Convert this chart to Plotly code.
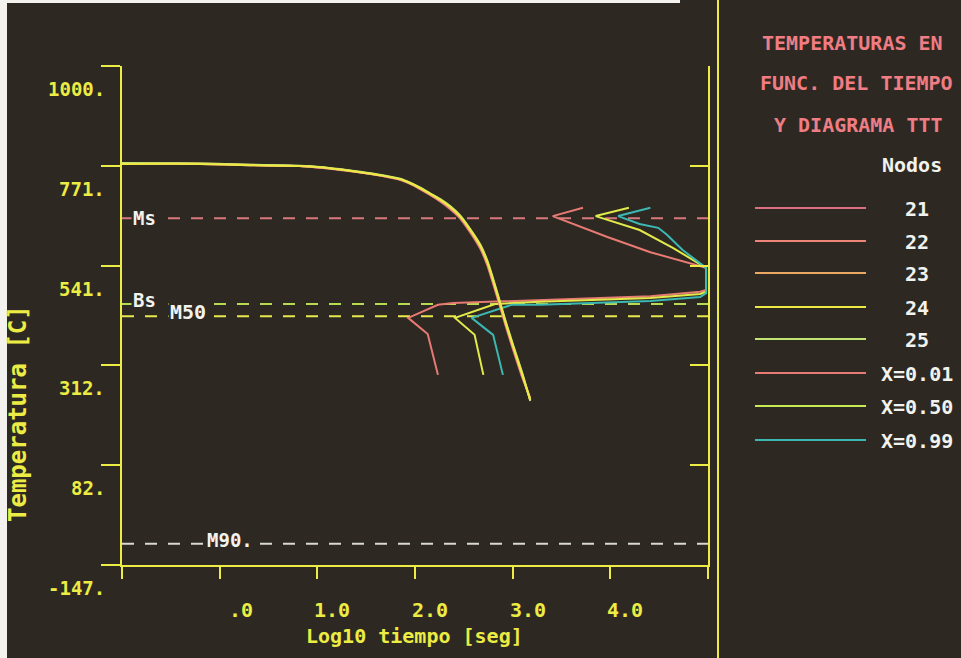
import plotly.graph_objects as go

# ---------------- data ----------------
log_t = [-1.0, -0.2, 0.31, 0.62, 0.82, 1.03, 1.23, 1.44, 1.67, 1.85, 1.95, 2.05, 2.15,
         2.26, 2.36, 2.46, 2.56, 2.67, 2.74, 2.80, 2.87, 2.93, 3.00, 3.10, 3.18]
temp_n21 = [775, 775, 772, 771, 770, 766, 761, 755, 747, 738, 729, 717, 704, 688, 671, 650, 619, 579, 542, 499, 447, 401, 351, 283, 237]
temp_n22 = [775, 775, 772, 771, 770, 766, 762, 755, 747, 739, 730, 718, 705, 690, 673, 652, 622, 582, 545, 503, 451, 405, 355, 286, 235]
temp_n23 = [776, 776, 773, 771, 770, 767, 762, 756, 748, 739, 730, 719, 706, 691, 675, 654, 624, 584, 548, 506, 453, 407, 357, 288, 233]
temp_n24 = [775, 775, 772, 771, 770, 767, 762, 756, 748, 740, 731, 720, 707, 692, 676, 655, 625, 586, 550, 508, 455, 409, 359, 290, 232]
temp_n25 = [777, 776, 773, 772, 771, 768, 763, 757, 749, 741, 732, 721, 708, 694, 678, 657, 627, 589, 553, 511, 458, 412, 362, 293, 230]
node_names = ["21", "22", "23", "24", "25"]
node_colors = ["#dc7082", "#ec8478", "#eaa864", "#ece844", "#c2e472"]

ttt001_t = [2.235, 2.13, 1.93, 2.235, 2.39, 3.28, 4.41, 4.92, 4.98, 4.98, 4.41, 3.97, 3.41, 3.72]
ttt001_T = [290, 384, 421, 451, 455, 462, 471, 481, 485, 536, 572, 607, 655, 674]
ttt050_t = [2.70, 2.61, 2.41, 2.82, 3.28, 4.41, 4.92, 4.98, 4.98, 4.64, 4.30, 3.85, 4.19]
ttt050_T = [290, 382, 421, 453, 458, 467, 476, 481, 536, 582, 623, 655, 674]
ttt099_t = [2.90, 2.80, 2.58, 2.82, 2.99, 3.28, 4.41, 4.92, 4.98, 4.98, 4.74, 4.58, 4.49, 4.30, 4.08, 4.41]
ttt099_T = [290, 382, 421, 439, 451, 451, 460, 469, 478, 536, 577, 612, 628, 637, 655, 674]
ttt_names = ["X=0.01", "X=0.50", "X=0.99"]
ttt_colors = ["#e87a74", "#e2ea4a", "#3cb8b2"]

crit_names = ["Ms", "Bs", "M50", "M90."]
crit_temps = [650, 453, 425, -98]
crit_colors = ["#d8787c", "#b8da52", "#e8e84c", "#d8d8d4"]

y_tick_vals = [1000, 771, 541, 312, 82, -147]
y_tick_text = ["1000.", "771.", "541.", "312.", "82.", "-147."]
x_tick_vals = [-1, 0, 1, 2, 3, 4, 5]
x_label_vals = [0, 1, 2, 3, 4]
x_label_text = [".0", "1.0", "2.0", "3.0", "4.0"]

title_lines = ["TEMPERATURAS EN", "FUNC. DEL TIEMPO", "Y DIAGRAMA TTT"]

# ---------------- layout geometry (pixels) ----------------
W, H = 961, 658
L, R, T, B = 122, 708, 66, 565
BG = "#2d2922"
YEL = "#ecec44"
WHITE = "#f2f2ee"
PINK = "#f07c84"
FONT = "DejaVu Sans Mono"


def px(xp):
    return (xp - L) / (R - L)


def py(yp):
    return (B - yp) / (B - T)


fig = go.Figure()

# critical temperature lines
for name, tv, col in zip(crit_names, crit_temps, crit_colors):
    fig.add_trace(go.Scatter(x=[-1, 5], y=[tv, tv], mode="lines",
                             line=dict(color=col, width=2, dash="12px,11px"),
                             showlegend=False, hoverinfo="skip"))

# TTT curves
for t_, T_, col in zip([ttt001_t, ttt050_t, ttt099_t], [ttt001_T, ttt050_T, ttt099_T], ttt_colors):
    fig.add_trace(go.Scatter(x=t_, y=T_, mode="lines", line=dict(color=col, width=2),
                             showlegend=False))

# cooling curves (node 24 drawn last)
node_temps = [temp_n21, temp_n22, temp_n23, temp_n24, temp_n25]
for i in [0, 1, 2, 4, 3]:
    fig.add_trace(go.Scatter(x=log_t, y=node_temps[i], mode="lines",
                             line=dict(color=node_colors[i], width=2, shape="spline", smoothing=0.6),
                             showlegend=False))

# dummy trace for right axis
fig.add_trace(go.Scatter(x=[None], y=[None], yaxis="y2", showlegend=False))

annotations = []
# y tick labels
for v, t in zip(y_tick_vals, y_tick_text):
    annotations.append(dict(x=0, xref="paper", y=v, yref="y", text=t, showarrow=False,
                            xanchor="right", yanchor="middle", xshift=-15, yshift=-23,
                            font=dict(family=FONT, size=19, color=YEL, weight="bold")))
# x tick labels
for v, t in zip(x_label_vals, x_label_text):
    annotations.append(dict(x=v, xref="x", y=0, yref="paper", text=t, showarrow=False,
                            xanchor="right", yanchor="middle", xshift=35, yshift=-45,
                            font=dict(family=FONT, size=20, color=YEL, weight="bold")))
# axis titles
annotations.append(dict(x=px(414), xref="paper", y=py(636), yref="paper", text="Log10 tiempo [seg]",
                        showarrow=False, xanchor="center", yanchor="middle",
                        font=dict(family=FONT, size=20, color=YEL, weight="bold")))
annotations.append(dict(x=px(18), xref="paper", y=py(414), yref="paper", text="Temperatura [C]",
                        showarrow=False, xanchor="center", yanchor="middle", textangle=-90,
                        font=dict(family=FONT, size=24, color=YEL, weight="bold")))
# critical line labels
crit_label_px = [(144, 218), (144, 300), (188, 312), (230, 540)]
crit_label_size = [19, 19, 20, 19]
for name, (lx, ly), fs in zip(crit_names, crit_label_px, crit_label_size):
    annotations.append(dict(x=px(lx), xref="paper", y=py(ly), yref="paper", text=name,
                            showarrow=False, xanchor="center", yanchor="middle",
                            bgcolor=BG, borderpad=1,
                            font=dict(family=FONT, size=fs, color=WHITE, weight="bold")))
# legend panel title
for line, (lx, ly) in zip(title_lines, [(760, 43), (758, 83), (772, 125)]):
    annotations.append(dict(x=px(lx), xref="paper", y=py(ly), yref="paper", text=line,
                            showarrow=False, xanchor="left", yanchor="middle",
                            font=dict(family=FONT, size=20, color=PINK, weight="bold")))
annotations.append(dict(x=px(912), xref="paper", y=py(165), yref="paper", text="Nodos",
                        showarrow=False, xanchor="center", yanchor="middle",
                        font=dict(family=FONT, size=20, color=WHITE, weight="bold")))

shapes = []
legend_names = node_names + ttt_names
legend_colors = node_colors + ["#e87a74", "#c8ea56", "#3cb8b2"]
legend_y = [208, 241, 273, 307, 339, 373, 406, 440]
for name, col, ly in zip(legend_names, legend_colors, legend_y):
    shapes.append(dict(type="line", xref="paper", yref="paper", x0=px(755), x1=px(866),
                       y0=py(ly), y1=py(ly), line=dict(color=col, width=2)))
    annotations.append(dict(x=px(917), xref="paper", y=py(ly + 1), yref="paper", text=name,
                            showarrow=False, xanchor="center", yanchor="middle",
                            font=dict(family=FONT, size=20, color=WHITE, weight="bold")))

# separator line and photo border
shapes.append(dict(type="line", xref="paper", yref="paper", x0=px(718), x1=px(718),
                   y0=py(H + 5), y1=py(-5), line=dict(color=YEL, width=2)))
shapes.append(dict(type="rect", xref="paper", yref="paper", x0=px(-5), x1=px(7),
                   y0=py(H + 5), y1=py(-5), line=dict(width=0), fillcolor="#f4f2ee"))
shapes.append(dict(type="rect", xref="paper", yref="paper", x0=px(-5), x1=px(680),
                   y0=py(3), y1=py(-5), line=dict(width=0), fillcolor="#f4f2ee"))

fig.update_layout(
    width=W, height=H,
    margin=dict(l=L, r=W - R, t=T, b=H - B, pad=0),
    paper_bgcolor=BG, plot_bgcolor=BG,
    showlegend=False,
    xaxis=dict(range=[-1, 5], showgrid=False, zeroline=False, showline=True,
               linecolor=YEL, linewidth=2, ticks="outside", ticklen=12, tickwidth=2,
               tickcolor=YEL, tickvals=x_tick_vals, showticklabels=False, fixedrange=True),
    yaxis=dict(range=[-147, 1000], showgrid=False, zeroline=False, showline=True,
               linecolor=YEL, linewidth=2, ticks="outside", ticklen=19, tickwidth=2,
               tickcolor=YEL, tickvals=y_tick_vals, showticklabels=False, fixedrange=True),
    yaxis2=dict(range=[-147, 1000], overlaying="y", side="right", showgrid=False,
                zeroline=False, showline=True, linecolor=YEL, linewidth=2,
                ticks="inside", ticklen=18, tickwidth=2, tickcolor=YEL,
                tickvals=y_tick_vals[:-1], showticklabels=False, fixedrange=True),
    annotations=annotations,
    shapes=shapes,
)

fig.write_html("out.html", config={"displayModeBar": False})
